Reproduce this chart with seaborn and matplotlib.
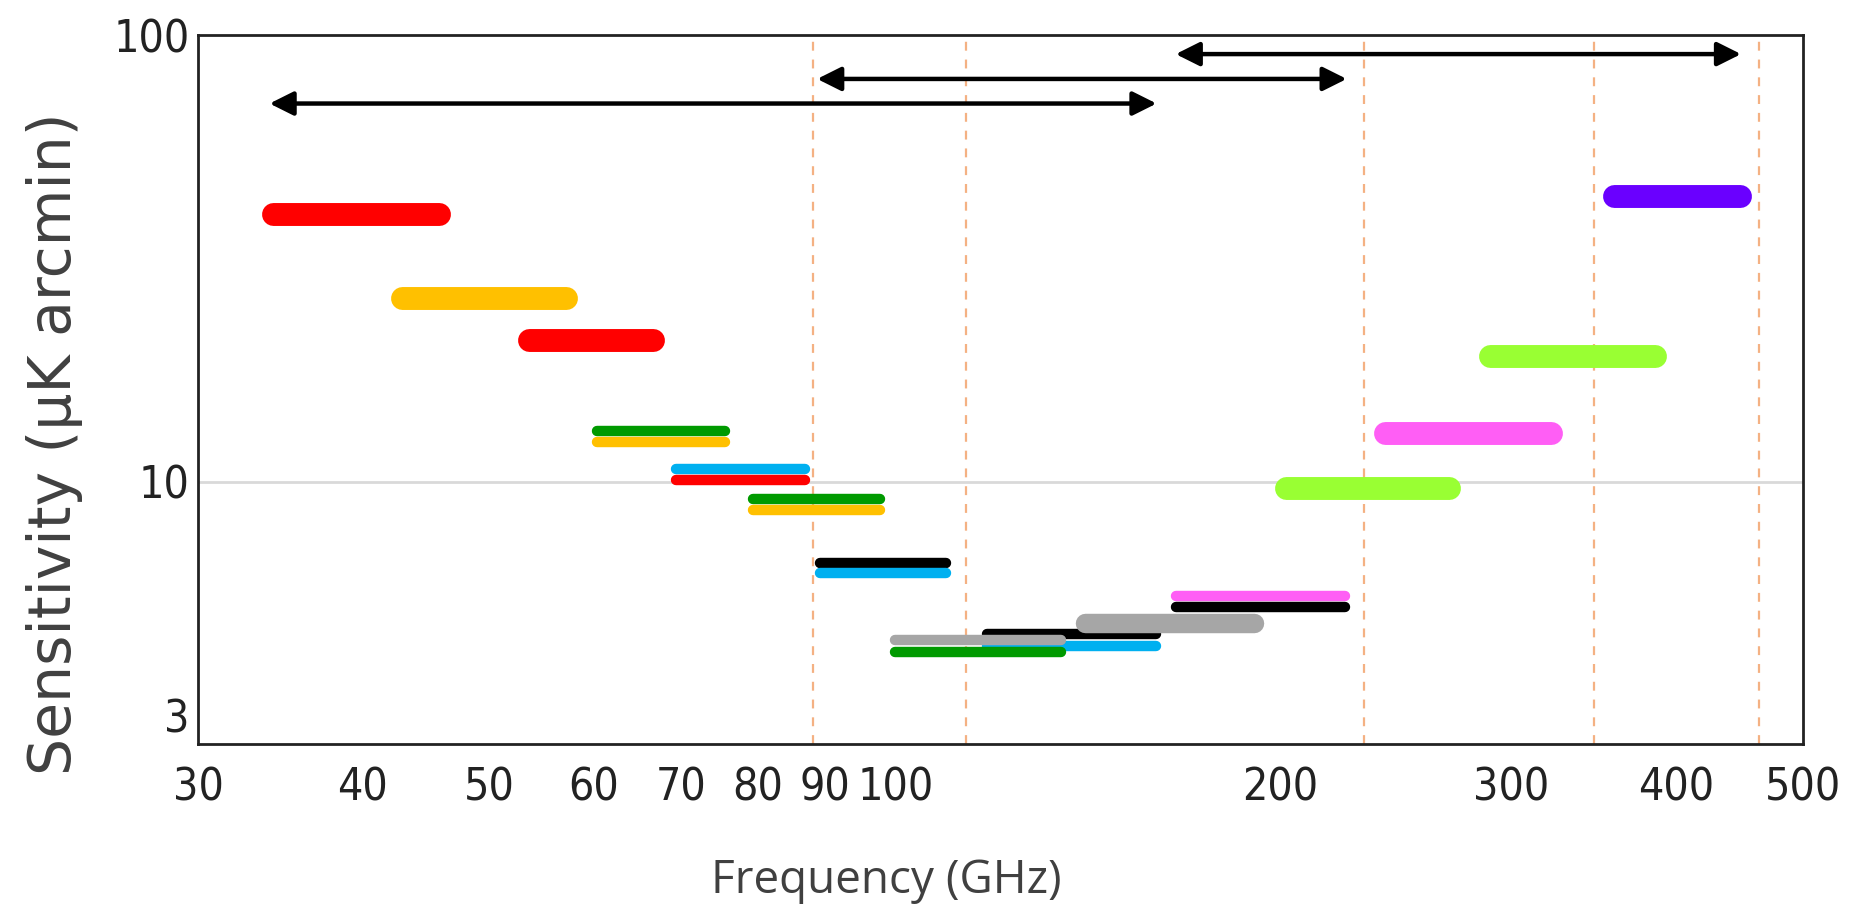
import matplotlib.pyplot as plt
import matplotlib.transforms as mtransforms
import seaborn as sns
from matplotlib.ticker import FixedLocator, NullFormatter, NullLocator

# frequency bands: edges in GHz, sensitivity in uK arcmin
band_low = [34.2, 42.9, 53.6, 60.4, 60.4, 69.3, 69.3, 79.3, 79.3, 89.2, 89.2,
            119.7, 119.7, 101.8, 101.8, 141.9, 166.5, 166.5, 202.0, 240.3, 288.7, 359.0]
band_high = [45.8, 57.2, 66.6, 75.6, 75.6, 86.9, 86.9, 99.2, 99.2, 111.4, 111.4,
             160.8, 160.8, 136.2, 136.2, 190.9, 224.0, 224.0, 269.0, 321.4, 386.0, 448.0]
band_sens = [39.8, 25.8, 20.8, 13.0, 12.3, 10.7, 10.1, 9.18, 8.66, 6.60, 6.26,
             4.57, 4.30, 4.42, 4.17, 4.84, 5.56, 5.26, 9.68, 12.87, 19.1, 43.6]

# instrument coverage arrows (GHz) and their heights
arrow_low = [34.0, 88.8, 166.5]
arrow_high = [161.0, 224.7, 448.6]
arrow_y = [70.3, 79.8, 90.7]

# dashed reference frequencies (GHz)
ref_freqs = [88.1, 115.2, 231.6, 346.8, 462.6]

x_ticks = [30, 40, 50, 60, 70, 80, 90, 100, 200, 300, 400, 500]
y_ticks = [3, 10, 100]
y_minor = [4, 5, 6, 7, 8, 9, 20, 30, 40, 50, 60, 70, 80, 90]

# styling per band
band_colors = ["#FF0000", "#FFC000", "#FF0000", "#009A00", "#FFC000", "#00B0F0", "#FF0000",
               "#009A00", "#FFC000", "#000000", "#00B0F0", "#000000", "#00B0F0", "#A6A6A6",
               "#009A00", "#A6A6A6", "#FF5EF5", "#000000", "#99FF33", "#FF5EF5", "#99FF33",
               "#6A00FF"]
band_lw = [16.5, 16.5, 16.5, 7.5, 7.5, 7.5, 7.5, 7.5, 7.5, 7.5, 7.5,
           7.5, 7.5, 7.5, 7.5, 14.0, 7.5, 7.5, 16.5, 16.5, 16.5, 16.5]

sns.set_theme(style="white")

fig = plt.figure(figsize=(18.52, 9.13), dpi=100)
ax = fig.add_axes([0.107, 0.185, 0.8665, 0.7765])
ax.set_xscale("log")
ax.set_yscale("log")
ax.set_xlim(30, 500)
ax.set_ylim(2.59, 100)

ax.axhline(10, color="#D9D9D9", lw=2, zorder=0)
for f in ref_freqs:
    ax.axvline(f, color="#F4B183", lw=1.6, ls=(0, (4, 4)), zorder=1)

for lo, hi, s, c, lw in zip(band_low, band_high, band_sens, band_colors, band_lw):
    sns.lineplot(x=[lo, hi], y=[s, s], ax=ax, color=c, linewidth=lw,
                 solid_capstyle="round", estimator=None, sort=False, zorder=3)

for lo, hi, yv in zip(arrow_low, arrow_high, arrow_y):
    ax.annotate("", xy=(hi, yv), xytext=(lo, yv),
                arrowprops=dict(arrowstyle="<|-|>", color="black", lw=3.2,
                                mutation_scale=36, shrinkA=0, shrinkB=0), zorder=4)

ax.xaxis.set_major_locator(FixedLocator(x_ticks))
ax.xaxis.set_minor_locator(NullLocator())
ax.set_xticklabels([str(t) for t in x_ticks])
ax.yaxis.set_major_locator(FixedLocator(y_ticks))
ax.yaxis.set_minor_locator(FixedLocator(y_minor))
ax.yaxis.set_minor_formatter(NullFormatter())
ax.set_yticklabels([str(t) for t in y_ticks])

ax.tick_params(axis="both", which="major", direction="in", length=11, width=1.8,
               colors="#222222", labelsize=32, pad=16)
ax.tick_params(axis="y", which="minor", direction="in", length=8, width=1.8, colors="#222222")
ax.tick_params(axis="y", which="major", pad=6)
for lab in ax.get_xticklabels() + ax.get_yticklabels():
    lab.set_family(["DejaVu Sans"])
    lab.set_fontstretch("condensed")

# nudge "100" a bit right so it does not run into "90"
lab100 = ax.get_xticklabels()[x_ticks.index(100)]
lab100.set_transform(lab100.get_transform()
                     + mtransforms.ScaledTranslation(8 / 72, 0, fig.dpi_scale_trans))

for sp in ax.spines.values():
    sp.set_color("#222222")
    sp.set_linewidth(2)

ax.set_xlabel("Frequency (GHz)", fontsize=33, color="#404040",
              family=["Open Sans", "DejaVu Sans"])
ax.set_ylabel("Sensitivity (\u03bcK arcmin)", fontsize=42, color="#404040",
              family=["DejaVu Sans"])
ax.xaxis.set_label_coords(0.429, -0.16)
ax.yaxis.set_label_coords(-0.072, 0.424)

fig.savefig("out.png", dpi=100)
plt.close(fig)
